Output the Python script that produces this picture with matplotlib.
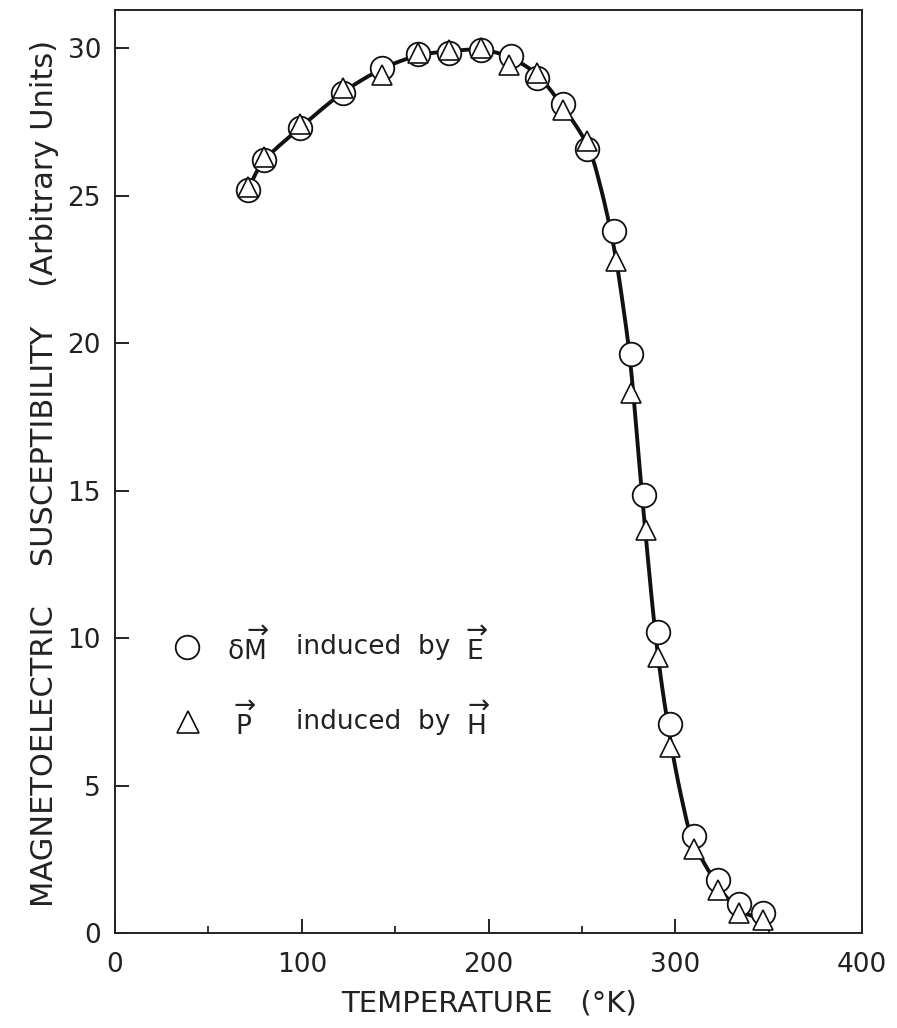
import matplotlib
matplotlib.use("Agg")
import matplotlib.pyplot as plt
import numpy as np

# circles: delta M induced by E
CIRCLE_T = [71, 80, 99, 122, 143, 162, 179, 196, 212, 226, 240, 253, 267, 276.5, 283, 290.5, 297, 310, 323, 334, 347]
CIRCLE_V = [25.2, 26.2, 27.3, 28.5, 29.35, 29.8, 29.85, 29.95, 29.75, 29.0, 28.1, 26.6, 23.8, 19.65, 14.85, 10.2, 7.1, 3.3, 1.8, 1.0, 0.67]

# triangles: P induced by H
TRI_T = [71, 80, 99, 122, 143, 162, 179, 196, 211, 226, 240, 253, 268.5, 276.5, 284.5, 290.5, 297, 310, 323, 334, 347]
TRI_V = [25.3, 26.3, 27.45, 28.65, 29.1, 29.85, 29.95, 30.0, 29.45, 29.15, 27.9, 26.85, 22.8, 18.3, 13.65, 9.35, 6.3, 2.85, 1.45, 0.67, 0.44]

# smooth curve drawn through the data (knots)
CURVE_T = [71, 80, 99, 122, 143, 162, 179, 196, 211, 226, 240, 253, 260, 267, 272, 276.5, 283, 290, 297, 304, 310, 323, 334, 347]
CURVE_V = [25.2, 26.2, 27.3, 28.5, 29.3, 29.75, 29.9, 29.95, 29.7, 29.1, 28.0, 26.7, 25.3, 23.3, 21.3, 19.0, 14.3, 9.8, 6.7, 4.4, 3.05, 1.6, 0.8, 0.45]

X_TICKS = [0, 100, 200, 300, 400]
X_MINOR = [50, 150, 250, 350]
Y_TICKS = [0, 5, 10, 15, 20, 25, 30]


def catmull_rom(x, y, n=24):
    p = np.column_stack([x, y]).astype(float)
    p = np.vstack([2 * p[0] - p[1], p, 2 * p[-1] - p[-2]])
    out = []
    t = np.linspace(0, 1, n, endpoint=False)[:, None]
    for i in range(1, len(p) - 2):
        p0, p1, p2, p3 = p[i - 1], p[i], p[i + 1], p[i + 2]
        seg = 0.5 * ((2 * p1) + (-p0 + p2) * t + (2 * p0 - 5 * p1 + 4 * p2 - p3) * t ** 2
                     + (-p0 + 3 * p1 - 3 * p2 + p3) * t ** 3)
        out.append(seg)
    out.append(p[-2][None, :])
    out = np.vstack(out)
    return out[:, 0], out[:, 1]


INK = "#111111"
TXT = "#222222"
plt.rcParams.update({
    "font.family": ["DejaVu Sans"],
    "mathtext.fontset": "dejavusans",
    "axes.linewidth": 1.4,
    "axes.edgecolor": "#222222",
})

fig = plt.figure(figsize=(8.97, 10.28), dpi=100)
ax = fig.add_axes([115 / 897, 1 - 933 / 1028, (862 - 115) / 897, (933 - 10) / 1028])

cx, cy = catmull_rom(CURVE_T, CURVE_V)
ax.plot(cx, cy, color=INK, lw=2.8, zorder=2, solid_capstyle="round")

ax.plot(CIRCLE_T, CIRCLE_V, ls="none", marker="o", ms=17, mfc="white",
        mec=INK, mew=1.3, zorder=3)
ax.plot(TRI_T, TRI_V, ls="none", marker="^", ms=15, mfc="white",
        mec=INK, mew=1.2, zorder=4)

ax.set_xlim(0, 400)
ax.set_ylim(0, 31.3)
ax.set_xticks(X_TICKS)
ax.set_xticks(X_MINOR, minor=True)
ax.set_yticks(Y_TICKS)
ax.tick_params(axis="both", which="major", direction="in", length=10, width=1.3,
               labelsize=19, colors=INK, pad=14)
ax.tick_params(axis="x", which="minor", direction="in", length=5, width=1.2, colors=INK)
ax.tick_params(axis="y", pad=10)
for lab in ax.get_xticklabels() + ax.get_yticklabels():
    lab.set_color(TXT)

ax.set_xlabel("TEMPERATURE   (°K)", fontsize=21, color=TXT, labelpad=8)
fig.text(45 / 897, 1 - 473 / 1028,
         "MAGNETOELECTRIC    SUSCEPTIBILITY    (Arbitrary Units)",
         rotation=90, ha="center", va="center", fontsize=22, color=TXT)

# legend drawn in place
ax.plot([38.6], [9.7], ls="none", marker="o", ms=17, mfc="white", mec=INK, mew=1.3)
ax.plot([39.0], [7.15], ls="none", marker="^", ms=16, mfc="white", mec=INK, mew=1.2)
rows = [(9.7, r"δ$\overrightarrow{\mathrm{M}}$", r"$\overrightarrow{\mathrm{E}}$"),
        (7.15, r" $\overrightarrow{\mathrm{P}}$", r"$\overrightarrow{\mathrm{H}}$")]
for yv, sym, field in rows:
    ax.text(60, yv, sym, fontsize=19, va="center", ha="left", color=TXT)
    ax.text(97, yv, "induced  by", fontsize=19, va="center", ha="left", color=TXT)
    ax.text(188, yv, field, fontsize=19, va="center", ha="left", color=TXT)

fig.savefig("out.png", dpi=100, facecolor="white")
